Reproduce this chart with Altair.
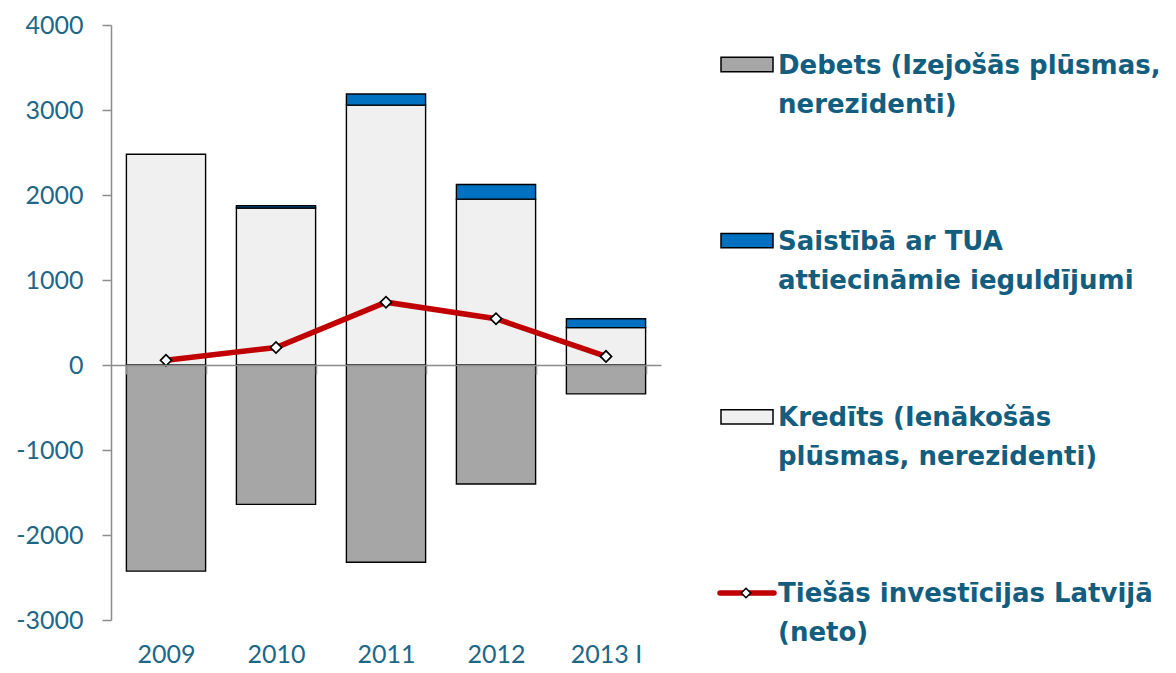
import altair as alt
import pandas as pd

# ---- data ----
years = ["2009", "2010", "2011", "2012", "2013 I"]
debets = [-2425, -1640, -2320, -1400, -340]
kredits = [2480, 1847, 3057, 1952, 440]
tua = [0, 27, 131, 172, 105]
neto = [55, 206, 739, 545, 101]

s_debets = "Debets (Izejošās plūsmas, nerezidenti)"
s_tua = "Saistībā ar TUA attiecināmie ieguldījumi"
s_kred = "Kredīts (Ienākošās plūsmas, nerezidenti)"
s_neto = "Tiešās investīcijas Latvijā (neto)"

legend_series = [s_debets, s_tua, s_kred, s_neto]
legend_labels = [
    "Debets (Izejošās plūsmas,\nnerezidenti)",
    "Saistībā ar TUA\nattiecināmie ieguldījumi",
    "Kredīts (Ienākošās\nplūsmas, nerezidenti)",
    "Tiešās investīcijas Latvijā\n(neto)",
]
bar_series = [s_debets, s_tua, s_kred]
bar_colors = ["#A6A6A6", "#0070C0", "#F0F0F0"]
y_ticks = [-3000, -2000, -1000, 0, 1000, 2000, 3000, 4000]

# ---- tables ----
rows = []
for i, yr in enumerate(years):
    rows.append({"year": yr, "series": s_debets, "value": debets[i], "ord": 0})
    rows.append({"year": yr, "series": s_kred, "value": kredits[i], "ord": 0})
    rows.append({"year": yr, "series": s_tua, "value": tua[i], "ord": 1})
bars_df = pd.DataFrame(rows)
bars_df = bars_df[bars_df["value"] != 0]

line_df = pd.DataFrame({"year": years, "neto": neto})

legend_df = pd.DataFrame({
    "idx": list(range(len(legend_series))),
    "series": legend_series,
    "label": legend_labels,
})

TEXT_COLOR = "#135E7E"
TICK_COLOR = "#1D6787"
AXIS_GRAY = "#8C8C8C"

X = alt.X(
    "year:N", sort=years,
    scale=alt.Scale(paddingInner=0.28, paddingOuter=0.14),
    axis=alt.Axis(
        title=None, orient="bottom", offset=-255, labelAngle=0,
        domainColor=AXIS_GRAY, domainWidth=1.5,
        tickColor=AXIS_GRAY, tickWidth=1.5, tickSize=9, tickBand="extent",
        labelFont="Lato", labelFontSize=25, labelColor=TICK_COLOR,
        labelPadding=268, zindex=1,
    ),
)
Y_SCALE = alt.Scale(domain=[-3000, 4000], nice=False, zero=False)
Y_AXIS = alt.Axis(
    title=None, values=y_ticks, grid=False,
    labelExpr="'' + datum.value",
    domainColor=AXIS_GRAY, domainWidth=1.5,
    tickColor=AXIS_GRAY, tickWidth=1.5, tickSize=9,
    labelFont="Lato", labelFontSize=25, labelColor=TICK_COLOR,
    labelPadding=19,
)
color_scale = alt.Scale(domain=bar_series, range=bar_colors)

bars = alt.Chart(bars_df).mark_bar(stroke="black", strokeWidth=1.4).encode(
    x=X,
    y=alt.Y("value:Q", stack="zero", scale=Y_SCALE, axis=Y_AXIS),
    color=alt.Color("series:N", scale=color_scale, legend=None),
    order=alt.Order("ord:Q"),
)
line = alt.Chart(line_df).mark_line(color="#C00000", strokeWidth=5.5).encode(
    x=X, y=alt.Y("neto:Q", scale=Y_SCALE, axis=Y_AXIS),
)
points = alt.Chart(line_df).mark_point(
    shape="diamond", filled=True, fill="white", stroke="black",
    strokeWidth=1.7, size=125, opacity=1,
).encode(x=X, y=alt.Y("neto:Q", scale=Y_SCALE, axis=Y_AXIS))

main = alt.layer(bars, line, points)

# ---- legend drawn on its own scale ----
leg_y = alt.Y("idx:Q", scale=alt.Scale(domain=[0, 3], range=[39.5, 568]), axis=None)
rect_path = "M-2,-0.55L2,-0.55L2,0.55L-2,0.55Z"

leg_rect = alt.Chart(legend_df).transform_filter(
    alt.FieldOneOfPredicate(field="series", oneOf=bar_series)
).mark_point(
    shape=rect_path, filled=True, size=676, stroke="black", strokeWidth=1.5, opacity=1,
).encode(
    x=alt.value(636), y=leg_y,
    color=alt.Color("series:N", scale=color_scale, legend=None),
)
leg_rule = alt.Chart(legend_df).transform_filter(
    alt.datum.series == s_neto
).mark_rule(color="#C00000", strokeWidth=5.5, strokeCap="round").encode(
    x=alt.value(609), x2=alt.value(663), y=leg_y,
)
leg_diamond = alt.Chart(legend_df).transform_filter(
    alt.datum.series == s_neto
).mark_point(
    shape="diamond", filled=True, fill="white", stroke="black",
    strokeWidth=1.6, size=90, opacity=1,
).encode(x=alt.value(635), y=leg_y)
leg_text = alt.Chart(legend_df).mark_text(
    align="left", baseline="alphabetic", dy=9, font="DejaVu Sans",
    fontWeight="bold", fontSize=26, lineBreak="\n", lineHeight=39,
    color=TEXT_COLOR,
).encode(x=alt.value(667), y=leg_y, text="label:N")

legend = alt.layer(leg_rect, leg_rule, leg_diamond, leg_text)

chart = alt.layer(main, legend).resolve_scale(y="independent").properties(
    width=550, height=595,
    autosize=alt.AutoSizeParams(type="none"),
    padding={"left": 103, "top": 17, "right": 507, "bottom": 51},
).configure_view(stroke=None)

chart.save("out.html", embed_options={"renderer": "svg", "actions": False})
